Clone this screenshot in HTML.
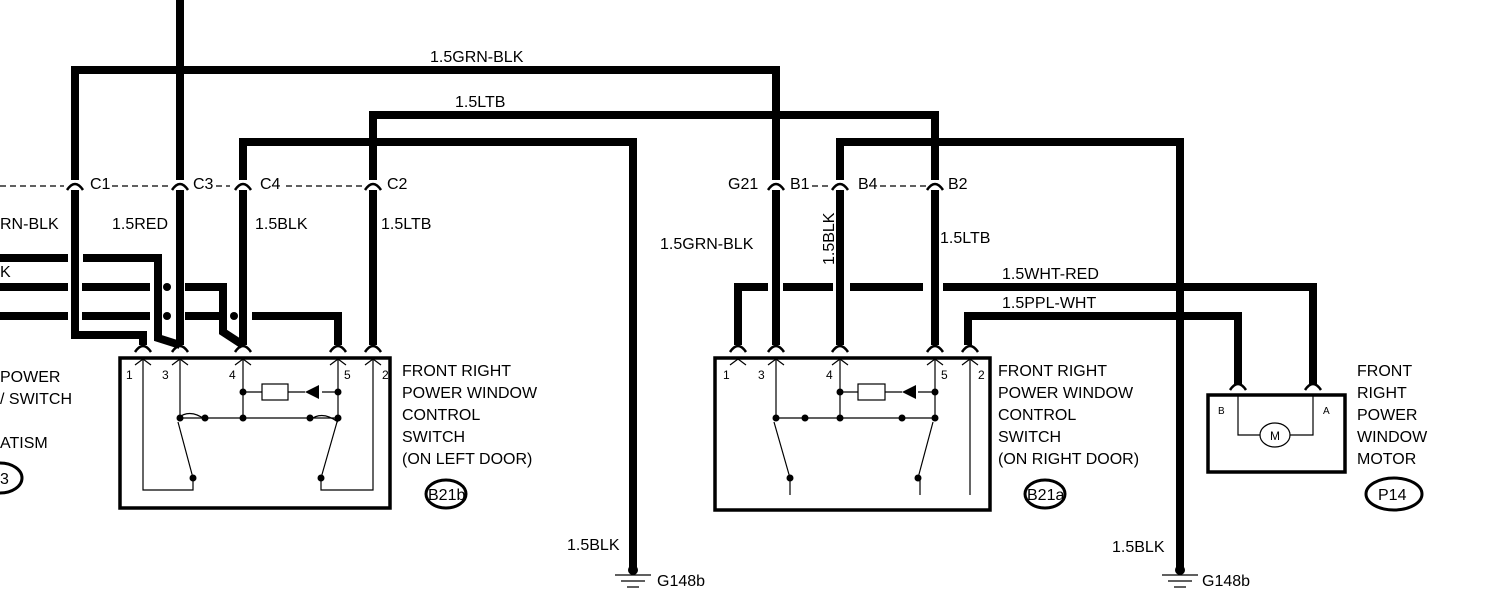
<!DOCTYPE html>
<html><head><style>body{margin:0;background:#fff}svg{display:block}text{font-family:"Liberation Sans",sans-serif;font-size:16px;fill:#000}</style></head><body>
<svg width="1493" height="609" viewBox="0 0 1493 609">
<g fill="none" stroke="#000" stroke-width="8">
<path d="M180 0V180"/>
<path d="M75 180V70H776V180"/>
<path d="M373 180V115H935V180"/>
<path d="M243 180V142H633V570"/>
<path d="M840 180V142H1180V570"/>
<path d="M75 190V335H143V345"/>
<path d="M180 190V345"/>
<path d="M243 190V345"/>
<path d="M373 190V345"/>
<path d="M776 190V345"/>
<path d="M840 190V345"/>
<path d="M935 190V345"/>
<path d="M0 258H68M83 258H158V338L180 345"/>
<path d="M0 287H68M82 287H150M185 287H223V332L243 345"/>
<path d="M0 316H68M82 316H150M185 316H226M252 316H338V345"/>
<path d="M738 345V287H768M783 287H833M850 287H923M943 287H1313V385"/>
<path d="M968 345V316H1238V385"/>
</g>
<g fill="#000"><circle cx="167" cy="287" r="4"/><circle cx="167" cy="316" r="4"/><circle cx="234" cy="316" r="4"/></g>
<g fill="none" stroke="#000" stroke-width="2.5">
<path d="M67 190q8-12 16 0M172 190q8-12 16 0M235 190q8-12 16 0M365 190q8-12 16 0M768 190q8-12 16 0M832 190q8-12 16 0M927 190q8-12 16 0"/>
<path d="M135 352q8-12 16 0M172 352q8-12 16 0M235 352q8-12 16 0M330 352q8-12 16 0M365 352q8-12 16 0"/>
<path d="M730 352q8-12 16 0M768 352q8-12 16 0M832 352q8-12 16 0M927 352q8-12 16 0M962 352q8-12 16 0"/>
<path d="M1230 390q8-12 16 0M1305 390q8-12 16 0"/>
<rect x="120" y="358" width="270" height="150" stroke-width="3.5"/>
<rect x="715" y="358" width="275" height="152" stroke-width="3.5"/>
<rect x="1208" y="395" width="137" height="77" stroke-width="3.5"/>
</g>
<g fill="none" stroke="#000" stroke-width="1.2">
<path d="M135 365l8-6 8 6M172 365l8-6 8 6M235 365l8-6 8 6M330 365l8-6 8 6M365 365l8-6 8 6"/>
<path d="M143 360V490H193V478M180 360V418M243 360V418M338 360V418M373 360V490H321V478M180 418H338M243 392H262M288 392H305M338 392H322"/>
<path d="M178 422L193 478M337 422L321 478M178 418q12-10 28 2M310 420q12-10 28 2"/>
<rect x="262" y="384" width="26" height="16"/>
<path d="M730 365l8-6 8 6M768 365l8-6 8 6M832 365l8-6 8 6M927 365l8-6 8 6M962 365l8-6 8 6"/>
<path d="M776 360V418M840 360V418M935 360V418M970 360V495M790 495V478M920 495V478M776 418H935M840 392H858M885 392H902M935 392H918"/>
<path d="M774 422L790 478M933 422L918 478"/>
<rect x="858" y="384" width="27" height="16"/>
<path d="M1238 395V435H1260M1290 435H1313V395"/>
<ellipse cx="1275" cy="435" rx="15" ry="12"/>
<path d="M0 186H64M112 186H168M216 186H230M286 186H362M812 186H830M880 186H926" stroke-dasharray="6 4"/>
<path d="M615 575H651M621 581H645M627 587H639M1162 575H1198M1168 581H1192M1174 587H1186"/>
<ellipse cx="446" cy="494" rx="20" ry="14" stroke-width="3"/>
<ellipse cx="1045" cy="494" rx="20" ry="14" stroke-width="3"/>
<ellipse cx="1394" cy="494" rx="28" ry="16" stroke-width="3"/>
<ellipse cx="0" cy="478" rx="22" ry="15" stroke-width="3"/>
</g>
<g fill="#000">
<circle cx="180" cy="418" r="3.5"/><circle cx="205" cy="418" r="3.5"/><circle cx="243" cy="418" r="3.5"/><circle cx="310" cy="418" r="3.5"/><circle cx="338" cy="418" r="3.5"/><circle cx="243" cy="392" r="3.5"/><circle cx="338" cy="392" r="3.5"/><circle cx="193" cy="478" r="3.5"/><circle cx="321" cy="478" r="3.5"/>
<circle cx="776" cy="418" r="3.5"/><circle cx="805" cy="418" r="3.5"/><circle cx="840" cy="418" r="3.5"/><circle cx="902" cy="418" r="3.5"/><circle cx="935" cy="418" r="3.5"/><circle cx="840" cy="392" r="3.5"/><circle cx="935" cy="392" r="3.5"/><circle cx="790" cy="478" r="3.5"/><circle cx="918" cy="478" r="3.5"/>
<path d="M305 392l14-7v14zM902 392l14-7v14z"/>
<circle cx="633" cy="570" r="5"/><circle cx="1180" cy="570" r="5"/>
</g>
<text x="430" y="62">1.5GRN-BLK</text>
<text x="455" y="107">1.5LTB</text>
<text x="90" y="189">C1</text><text x="193" y="189">C3</text><text x="260" y="189">C4</text><text x="387" y="189">C2</text>
<text x="728" y="189">G21</text><text x="790" y="189">B1</text><text x="858" y="189">B4</text><text x="948" y="189">B2</text>
<text x="0" y="229">RN-BLK</text><text x="112" y="229">1.5RED</text><text x="255" y="229">1.5BLK</text><text x="381" y="229">1.5LTB</text>
<text x="660" y="249">1.5GRN-BLK</text><text x="940" y="243">1.5LTB</text>
<text transform="translate(834,265) rotate(-90)">1.5BLK</text>
<text x="0" y="277">K</text>
<text x="1002" y="279">1.5WHT-RED</text><text x="1002" y="308">1.5PPL-WHT</text>
<text x="0" y="382">POWER</text><text x="0" y="404">/ SWITCH</text><text x="0" y="448">ATISM</text><text x="0" y="484">3</text>
<text x="126" y="379" style="font-size:12px">1</text><text x="162" y="379" style="font-size:12px">3</text><text x="229" y="379" style="font-size:12px">4</text><text x="344" y="379" style="font-size:12px">5</text><text x="382" y="379" style="font-size:12px">2</text>
<text x="723" y="379" style="font-size:12px">1</text><text x="758" y="379" style="font-size:12px">3</text><text x="826" y="379" style="font-size:12px">4</text><text x="941" y="379" style="font-size:12px">5</text><text x="978" y="379" style="font-size:12px">2</text>
<text x="1218" y="414" style="font-size:10px">B</text><text x="1323" y="414" style="font-size:10px">A</text><text x="1270" y="440" style="font-size:12px">M</text>
<text x="402" y="376">FRONT RIGHT</text><text x="402" y="398">POWER WINDOW</text><text x="402" y="420">CONTROL</text><text x="402" y="442">SWITCH</text><text x="402" y="464">(ON LEFT DOOR)</text>
<text x="998" y="376">FRONT RIGHT</text><text x="998" y="398">POWER WINDOW</text><text x="998" y="420">CONTROL</text><text x="998" y="442">SWITCH</text><text x="998" y="464">(ON RIGHT DOOR)</text>
<text x="1357" y="376">FRONT</text><text x="1357" y="398">RIGHT</text><text x="1357" y="420">POWER</text><text x="1357" y="442">WINDOW</text><text x="1357" y="464">MOTOR</text>
<text x="428" y="500">B21b</text><text x="1027" y="500">B21a</text><text x="1378" y="500">P14</text>
<text x="567" y="550">1.5BLK</text><text x="1112" y="552">1.5BLK</text>
<text x="657" y="586">G148b</text><text x="1202" y="586">G148b</text>
</svg>
</body></html>
